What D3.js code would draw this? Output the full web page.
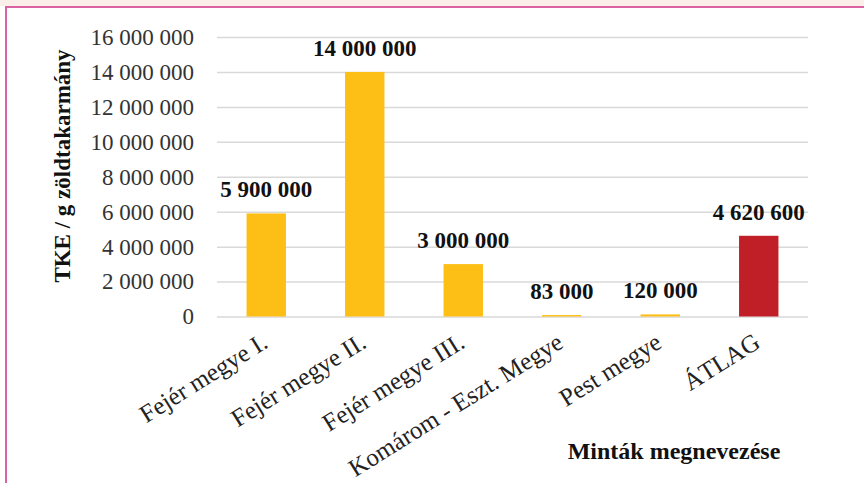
<!DOCTYPE html>
<html>
<head>
<meta charset="utf-8">
<script src="https://cdn.jsdelivr.net/npm/d3@7"></script>
<style>
  html, body { margin: 0; padding: 0; background: #ffffff; }
  svg { display: block; }
</style>
</head>
<body>
<svg id="chart" width="864" height="483"></svg>
<script>
// Sample names, colony counts and axis ticks
const categories = ["Fejér megye I.", "Fejér megye II.", "Fejér megye III.", "Komárom - Eszt. Megye", "Pest megye", "ÁTLAG"];
const values = [5900000, 14000000, 3000000, 83000, 120000, 4620600];
const barColors = ["#FDBE16", "#FDBE16", "#FDBE16", "#FDBE16", "#FDBE16", "#C01F27"];
const yTicks = [0, 2000000, 4000000, 6000000, 8000000, 10000000, 12000000, 14000000, 16000000];
const yTitle = "TKE / g zöldtakarmány";
const xTitle = "Minták megnevezése";

const svg = d3.select("#chart");
const W = 864, H = 483;
const plot = { left: 217, right: 808, top: 37, bottom: 316.5 };

// Hungarian-style grouping with spaces
const fmt = d3.formatLocale({ decimal: ",", thousands: " ", grouping: [3], currency: ["", ""] }).format(",d");

// page frame: light strip on top, pink rules on top and left
svg.append("rect").attr("x", 0).attr("y", 0).attr("width", W).attr("height", 6).attr("fill", "#fcefea");
svg.append("line").attr("x1", 5).attr("x2", W).attr("y1", 7).attr("y2", 7)
  .attr("stroke", "#db62a3").attr("stroke-width", 2);
svg.append("line").attr("x1", 6).attr("x2", 6).attr("y1", 6).attr("y2", H)
  .attr("stroke", "#db62a3").attr("stroke-width", 2);

const x = d3.scaleBand().domain(categories).range([plot.left, plot.right]).paddingInner(0.6).paddingOuter(0.3);
const y = d3.scaleLinear().domain([0, 16000000]).range([plot.bottom, plot.top]);

// horizontal gridlines
const grid = svg.append("g").attr("transform", `translate(${plot.left},0)`)
  .call(d3.axisLeft(y).tickValues(yTicks).tickSize(-(plot.right - plot.left)).tickFormat(""));
grid.select(".domain").remove();
grid.selectAll(".tick line").attr("stroke", "#d9d9d9").attr("stroke-width", 1.5);

// y tick labels
const yAxis = svg.append("g").attr("transform", `translate(${plot.left},0)`)
  .call(d3.axisLeft(y).tickValues(yTicks).tickSize(0).tickPadding(23).tickFormat(fmt));
yAxis.select(".domain").remove();
yAxis.selectAll(".tick text")
  .attr("font-family", "'Liberation Serif', 'Times New Roman', serif")
  .attr("font-size", 23).attr("fill", "#333333");

// bars
svg.append("g").selectAll("rect").data(values).join("rect")
  .attr("x", (d, i) => x(categories[i]))
  .attr("y", d => y(d))
  .attr("width", x.bandwidth())
  .attr("height", d => y(0) - y(d))
  .attr("fill", (d, i) => barColors[i]);

// value labels above bars
svg.append("g").selectAll("text").data(values).join("text")
  .attr("x", (d, i) => x(categories[i]) + x.bandwidth() / 2)
  .attr("y", d => y(d) - 16)
  .attr("text-anchor", "middle")
  .attr("font-family", "'Liberation Serif', 'Times New Roman', serif")
  .attr("font-weight", "bold").attr("font-size", 23).attr("fill", "#111111")
  .text(d => fmt(d));

// rotated category labels
svg.append("g").selectAll("text").data(categories).join("text")
  .attr("transform", d => `translate(${x(d) + x.bandwidth() / 2 + 3},${plot.bottom + 30}) rotate(-32)`)
  .attr("text-anchor", "end")
  .attr("font-family", "'Liberation Serif', 'Times New Roman', serif")
  .attr("font-size", 25).attr("fill", "#222222")
  .text(d => d);

// axis titles
svg.append("text")
  .attr("transform", `translate(70,166) rotate(-90)`)
  .attr("text-anchor", "middle")
  .attr("font-family", "'Liberation Serif', 'Times New Roman', serif")
  .attr("font-weight", "bold").attr("font-size", 23).attr("fill", "#111111")
  .text(yTitle);

svg.append("text")
  .attr("x", 674).attr("y", 459)
  .attr("text-anchor", "middle")
  .attr("font-family", "'Liberation Serif', 'Times New Roman', serif")
  .attr("font-weight", "bold").attr("font-size", 24).attr("fill", "#111111")
  .text(xTitle);
</script>
</body>
</html>
